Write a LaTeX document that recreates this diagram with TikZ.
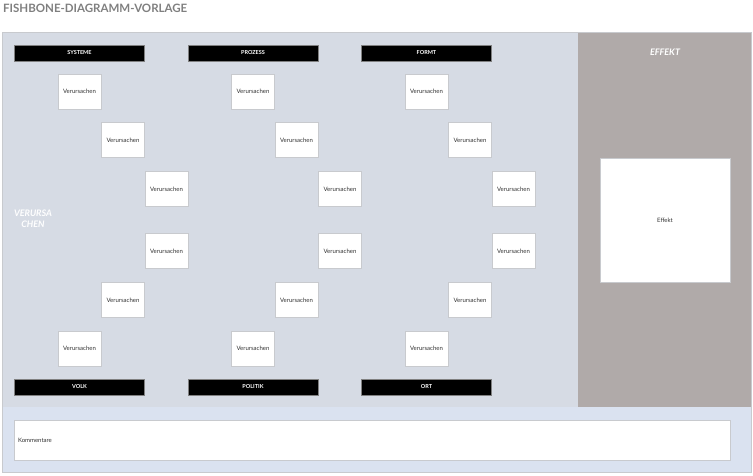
\documentclass[tikz,border=0pt]{standalone}
\usepackage{fontspec}
\setmainfont{Lato}
\definecolor{panelblue}{HTML}{D6DBE4}
\definecolor{effectgray}{HTML}{B0AAA9}
\definecolor{notesblue}{HTML}{DAE2F0}
\definecolor{titlegray}{HTML}{7F7F7F}
\definecolor{boxline}{HTML}{C8CACE}
\definecolor{boxtext}{HTML}{333333}
\begin{document}
\begin{tikzpicture}[x=1pt, y=-1pt,
  cause/.style={draw=boxline, fill=white, minimum width=43pt, minimum height=35pt,
    inner sep=0pt, text=boxtext, font=\fontsize{6}{7}\selectfont},
  bone/.style={draw=gray, fill=black, text=white, minimum width=130pt,
    minimum height=16pt, inner sep=0pt, font=\fontsize{5.5}{6}\selectfont\bfseries},
  heading/.style={text=white, font=\fontsize{9}{11}\selectfont\bfseries\itshape,
    align=center}]
  \useasboundingbox (0,0) rectangle (753,475);
  % panels
  \fill[panelblue] (2,32) rectangle (578,407);
  \fill[effectgray] (578,32) rectangle (751,407);
  \fill[notesblue] (2,407) rectangle (751,472);
  \draw[boxline] (2,32) rectangle (751,472);
  \node[anchor=base west, inner sep=0pt, text=titlegray,
    font=\fontsize{11.5}{14}\selectfont\bfseries] (title) at (3,12) {FISHBONE-DIAGRAMM-VORLAGE};
  \node[heading] (causes) at (33,219) {VERURSA\\CHEN};
  \node[heading] (effecthead) at (665,52) {EFFEKT};
  % bones
  \node[bone] (systeme) at (79.5,53) {SYSTEME};
  \node[bone] (prozess) at (253,53) {PROZESS};
  \node[bone] (formt) at (426.5,53) {FORMT};
  \node[bone] (volk) at (79.5,387) {VOLK};
  \node[bone] (politik) at (253,387) {POLITIK};
  \node[bone] (ort) at (426.5,387) {ORT};
  % causes
  \foreach \g in {0,1,2}
    \foreach \r/\c/\y in {1/0/91.5, 2/1/140, 3/2/189, 4/2/251, 5/1/300, 6/0/348.5}
      \node[cause] (c-\g-\r) at (79.5+173.5*\g+43.5*\c,\y) {Verursachen};
  % effect and notes
  \node[draw=boxline, fill=white, minimum width=130pt, minimum height=124pt,
    inner sep=0pt, text=boxtext, font=\fontsize{6}{7}\selectfont] (effekt) at (665,220) {Effekt};
  \node[draw=boxline, fill=white, minimum width=716pt, minimum height=40pt,
    inner sep=4pt, text width=708pt, align=left, text=boxtext,
    font=\fontsize{6}{7}\selectfont] (notes) at (372,440) {Kommentare};
\end{tikzpicture}
\end{document}
